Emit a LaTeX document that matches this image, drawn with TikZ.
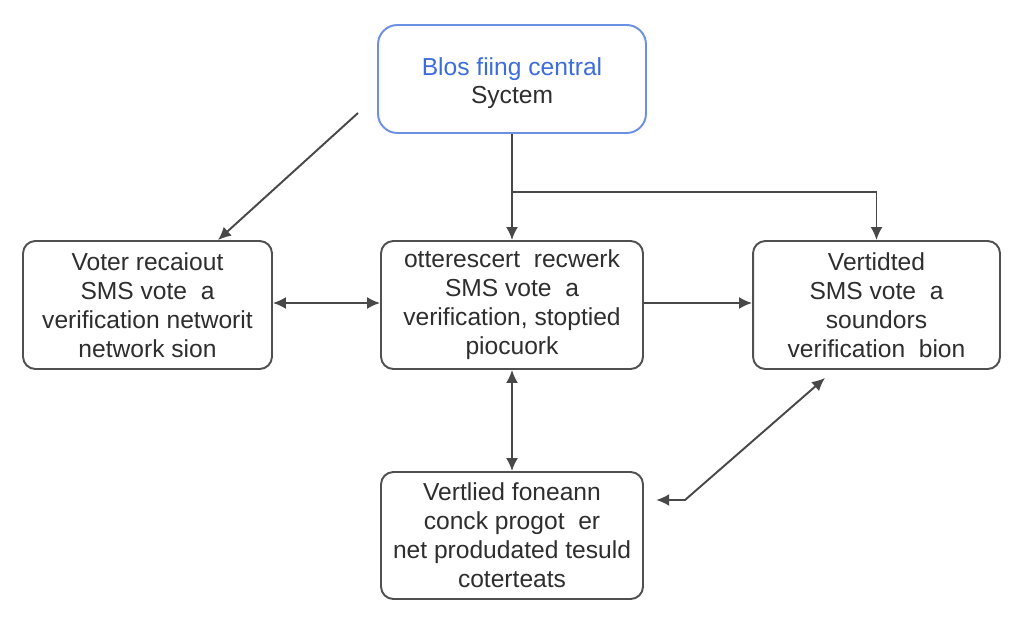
\documentclass[tikz,border=0pt]{standalone}
\usepackage{fontspec}
\setmainfont{Liberation Sans}
\usetikzlibrary{positioning,arrows.meta}

\definecolor{boxline}{HTML}{505050}
\definecolor{topline}{HTML}{6B8FE2}
\definecolor{topblue}{HTML}{3D6CDB}
\definecolor{txt}{HTML}{2E2E2E}

\tikzstyle{stage} = [draw=boxline,line width=1.1pt,rounded corners=7pt,fill=white,
  align=center,text=txt,inner sep=2pt,font=\fontsize{14}{16.5}\selectfont]
\tikzstyle{central} = [stage,draw=topline,rounded corners=11pt,font=\fontsize{14}{16}\selectfont]
\tikzstyle{link} = [draw=boxline!90!black,line width=1.1pt,->]
\tikzstyle{both link} = [link,<->]

\begin{document}
\begin{tikzpicture}[x=0.02cm,y=-0.02cm,>={Latex[length=2.6mm,width=2.4mm]}]
    \useasboundingbox (0,0) rectangle (1024,625);

    % boxes
    \node[central,minimum width=5.36cm,minimum height=2.16cm,text height=1.1cm] (sys) at (512,79)
        {\textcolor{topblue}{Blos fiing central}\\Syctem};
    \node[stage,minimum width=4.98cm,minimum height=2.56cm] (voter) at (147.5,305)
        {Voter recaiout\\SMS vote\ \ a\\verification networit\\network sion};
    \node[stage,minimum width=5.24cm,minimum height=2.56cm] (relay) at (512,305)
        {otterescert\ \ recwerk\\SMS vote\ \ a\\verification,\ stoptied\\piocuork};
    \node[stage,minimum width=4.94cm,minimum height=2.56cm] (check) at (876.5,305)
        {Vertidted\\SMS vote\ \ a\\soundors\\verification\ \ bion};
    \node[stage,minimum width=5.24cm,minimum height=2.54cm] (result) at (512,535.5)
        {Vertlied foneann\\conck progot\ \ er\\net produdated tesuld\\coterteats};

    % free ends and bends
    \coordinate (feed) at (358,113);
    \coordinate (split) at (512,192);
    \coordinate (kink) at (685,500);

    % connectors
    \path[link] (feed) -- (voter.north -| 218,0);
    \path[link] (sys) -- (relay);
    \path[link] (split) -| (check.north);
    \path[both link] (voter.east |- 0,303) -- (relay.west |- 0,303);
    \path[link] (relay.east |- 0,303) -- (check.west |- 0,303);
    \path[both link] (relay) -- (result);
    \path[both link,shorten <=7pt] (result.east |- kink) -- (kink) -- ([yshift=-0.16cm]check.south -| 825,0);

\end{tikzpicture}
\end{document}
